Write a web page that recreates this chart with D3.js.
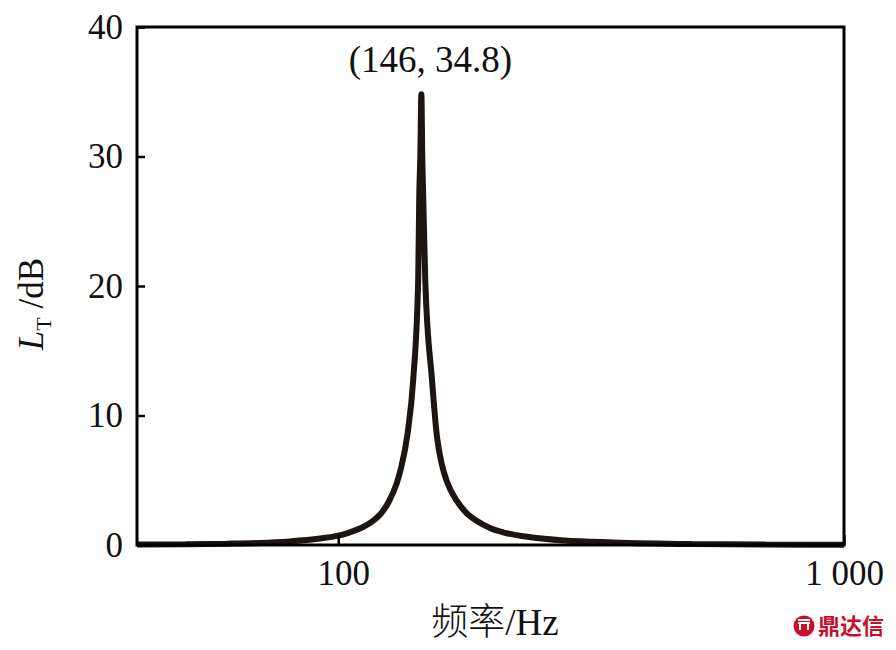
<!DOCTYPE html>
<html>
<head>
<meta charset="utf-8">
<script src="https://cdn.jsdelivr.net/npm/d3@7/dist/d3.min.js"></script>
<style>
  html, body { margin: 0; padding: 0; background: #fff; }
  svg { display: block; }
</style>
</head>
<body>
<svg id="chart" width="896" height="650"></svg>
<script>
// Data
const freq = [40, 50, 60, 70, 80, 92, 100, 104, 110, 116.6, 121, 125.7, 130.6, 133.2, 137.1, 140.7, 143.9, 144.6, 145.3, 146,
              146.6, 147.2, 148.6, 153.2, 156.7, 160.3, 164, 171.6, 179, 188, 200, 212, 240, 280, 350, 500, 700, 1000];
const level = [0.03, 0.06, 0.1, 0.16, 0.28, 0.5, 0.72, 0.9, 1.25, 1.8, 2.35, 3.3, 4.8, 6.0, 8.6, 12.8, 20.5, 27, 30, 34.8,
               30, 27, 20.5, 12.8, 8.4, 6.2, 4.9, 3.4, 2.5, 1.85, 1.3, 0.98, 0.6, 0.35, 0.2, 0.08, 0.04, 0.02];
const yTicks = [0, 10, 20, 30, 40];
const xTicks = [100, 1000];
const xTickLabels = ["100", "1 000"];
const peakLabel = "(146, 34.8)";
const peak = { f: 146, v: 34.8 };

const svg = d3.select("#chart");
const pLeft = 137, pRight = 844, pTop = 27, pBottom = 545;

const x = d3.scaleLog().domain([40, 1000]).range([pLeft, pRight]);
const y = d3.scaleLinear().domain([0, 40]).range([pBottom, pTop]);

const serif = "'Liberation Serif', 'Times New Roman', serif";

// curve
const pts = freq.map((f, i) => [f, level[i]]);
const line = d3.line().x(d => x(d[0])).y(d => y(d[1])).curve(d3.curveMonotoneX);
svg.append("path")
  .datum(pts)
  .attr("d", line)
  .attr("fill", "none")
  .attr("stroke", "#1c1512")
  .attr("stroke-width", 6)
  .attr("stroke-linejoin", "bevel");

// axes
const yAxis = d3.axisLeft(y).tickValues(yTicks).tickSizeInner(-8).tickSizeOuter(0).tickPadding(14);
const gy = svg.append("g").attr("transform", `translate(${pLeft},0)`).call(yAxis);
gy.select(".domain").remove();
gy.selectAll(".tick line").attr("stroke", "#000").attr("stroke-width", 2.5);
gy.selectAll(".tick text").attr("font-family", serif).attr("font-size", 35).attr("fill", "#111");

const xAxis = d3.axisBottom(x).tickValues(xTicks).tickFormat((d, i) => xTickLabels[i])
  .tickSizeInner(-10).tickSizeOuter(0).tickPadding(15);
const gx = svg.append("g").attr("transform", `translate(0,${pBottom})`).call(xAxis);
gx.select(".domain").remove();
gx.selectAll(".tick line").attr("stroke", "#000").attr("stroke-width", 2.5);
gx.selectAll(".tick text").attr("font-family", serif).attr("font-size", 35).attr("fill", "#111")
  .attr("dx", (d, i) => i === 0 ? 5 : 0);

// frame
svg.append("rect")
  .attr("x", pLeft).attr("y", pTop)
  .attr("width", pRight - pLeft).attr("height", pBottom - pTop)
  .attr("fill", "none").attr("stroke", "#000").attr("stroke-width", 3);

// peak label
svg.append("text")
  .attr("x", x(peak.f) + 9).attr("y", 72)
  .attr("text-anchor", "middle")
  .attr("font-family", serif).attr("font-size", 37).attr("fill", "#111")
  .text(peakLabel);

// y label
const yl = svg.append("text")
  .attr("transform", "translate(43,304) rotate(-90)")
  .attr("text-anchor", "middle")
  .attr("font-family", serif).attr("font-size", 35).attr("fill", "#111");
yl.append("tspan").attr("font-style", "italic").text("L");
yl.append("tspan").attr("font-size", 22).attr("dy", 8).text("T");
yl.append("tspan").attr("dy", -8).text(" /dB");

// x label
const xl = svg.append("text")
  .attr("x", 495).attr("y", 635)
  .attr("text-anchor", "middle")
  .attr("font-size", 37).attr("fill", "#111");
xl.append("tspan").attr("font-family", "'Noto Sans CJK SC', sans-serif").attr("font-weight", 300).text("频率");
xl.append("tspan").attr("font-family", serif).text("/Hz");

// watermark
const wm = svg.append("g").attr("transform", "translate(804,626)");
wm.append("circle").attr("r", 10.5).attr("fill", "#c8102e");
wm.append("path").attr("d", "M-6,-3 L6,-3 M-4,-3 L-4,4 M4,-3 L4,4 M-6,-6 L6,-6").attr("stroke", "#fff").attr("stroke-width", 2).attr("fill", "none");
svg.append("text")
  .attr("x", 818).attr("y", 634)
  .attr("font-family", "'Noto Sans CJK SC', sans-serif").attr("font-weight", 700)
  .attr("font-size", 22).attr("fill", "#c8102e")
  .text("鼎达信");
</script>
</body>
</html>
